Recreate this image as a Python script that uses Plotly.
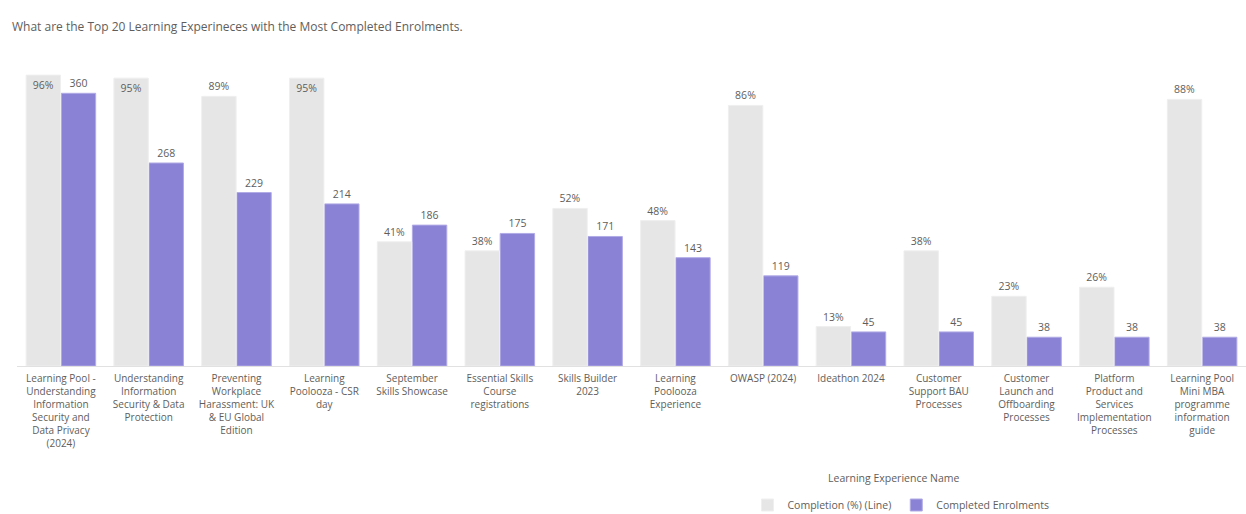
import plotly.graph_objects as go

# ---- data ----
categories = [
    "Learning Pool - Understanding Information Security and Data Privacy (2024)",
    "Understanding Information Security & Data Protection",
    "Preventing Workplace Harassment: UK & EU Global Edition",
    "Learning Poolooza - CSR day",
    "September Skills Showcase",
    "Essential Skills Course registrations",
    "Skills Builder 2023",
    "Learning Poolooza Experience",
    "OWASP (2024)",
    "Ideathon 2024",
    "Customer Support BAU Processes",
    "Customer Launch and Offboarding Processes",
    "Platform Product and Services Implementation Processes",
    "Learning Pool Mini MBA programme information guide",
]
tick_labels = [
    "Learning Pool -<br>Understanding<br>Information<br>Security and<br>Data Privacy<br>(2024)",
    "Understanding<br>Information<br>Security & Data<br>Protection",
    "Preventing<br>Workplace<br>Harassment: UK<br>& EU Global<br>Edition",
    "Learning<br>Poolooza - CSR<br>day",
    "September<br>Skills Showcase",
    "Essential Skills<br>Course<br>registrations",
    "Skills Builder<br>2023",
    "Learning<br>Poolooza<br>Experience",
    "OWASP (2024)",
    "Ideathon 2024",
    "Customer<br>Support BAU<br>Processes",
    "Customer<br>Launch and<br>Offboarding<br>Processes",
    "Platform<br>Product and<br>Services<br>Implementation<br>Processes",
    "Learning Pool<br>Mini MBA<br>programme<br>information<br>guide",
]
completion_pct = [96, 95, 89, 95, 41, 38, 52, 48, 86, 13, 38, 23, 26, 88]
completed_enrolments = [360, 268, 229, 214, 186, 175, 171, 143, 119, 45, 45, 38, 38, 38]

TEXT = "#605E5C"
FONT = "Open Sans"

pct_positions = ["inside" if v >= 95 else "outside" for v in completion_pct]

fig = go.Figure()
fig.add_trace(go.Bar(
    name="Completion (%) (Line)",
    x=categories, y=completion_pct, yaxis="y2", offsetgroup="pct",
    marker=dict(color="#E6E6E6", line=dict(color="#EFEFEF", width=1)),
    text=[f"{v}%" for v in completion_pct],
    textposition=pct_positions, insidetextanchor="end",
    textfont=dict(family=FONT, size=10.5, color=TEXT),
    insidetextfont=dict(family=FONT, size=10.5, color=TEXT),
    outsidetextfont=dict(family=FONT, size=10.5, color=TEXT),
    cliponaxis=False, hoverinfo="x+y",
))
fig.add_trace(go.Bar(
    name="Completed Enrolments",
    x=categories, y=completed_enrolments, yaxis="y", offsetgroup="cnt",
    marker=dict(color="#8A82D5", line=dict(color="#B1ABE6", width=1)),
    text=[str(v) for v in completed_enrolments],
    textposition="outside",
    textfont=dict(family=FONT, size=10.5, color=TEXT),
    outsidetextfont=dict(family=FONT, size=10.5, color=TEXT),
    cliponaxis=False, hoverinfo="x+y",
))

fig.update_layout(
    width=1246, height=514,
    paper_bgcolor="white", plot_bgcolor="white",
    font=dict(family=FONT, size=10.5, color=TEXT),
    margin=dict(l=17, r=0, t=63, b=148),
    barmode="group", bargap=0.2, bargroupgap=0.02,
    title=dict(
        text="What are the Top 20 Learning Experineces with the Most Completed Enrolments.",
        x=12 / 1246, xanchor="left", xref="container",
        y=1 - 27 / 514, yanchor="middle", yref="container",
        font=dict(family=FONT, size=12, color=TEXT),
    ),
    xaxis=dict(
        tickmode="array", tickvals=categories, ticktext=tick_labels,
        tickangle=0, showline=True, linecolor="#E1E1E1", linewidth=1,
        showgrid=False, ticks="", ticklabelstandoff=3,
        tickfont=dict(family=FONT, size=10, color=TEXT),
    ),
    yaxis=dict(range=[0, 400], visible=False),
    yaxis2=dict(range=[0, 100], visible=False, overlaying="y", side="right"),
    showlegend=True,
    legend=dict(
        orientation="h", xref="container", yref="container",
        x=901 / 1246, xanchor="center", y=9 / 514, yanchor="middle",
        font=dict(family=FONT, size=10.5, color=TEXT),
        traceorder="normal",
    ),
    annotations=[dict(
        text="Learning Experience Name", showarrow=False,
        xref="paper", yref="paper",
        x=(894 - 17) / 1229, y=-(478 - 366) / 303,
        xanchor="center", yanchor="middle",
        font=dict(family=FONT, size=10.5, color=TEXT),
    )],
)

fig.write_html(
    "out.html",
    config={"displayModeBar": False},
    post_script="document.body.style.margin='0px';document.body.style.overflow='hidden';",
)
